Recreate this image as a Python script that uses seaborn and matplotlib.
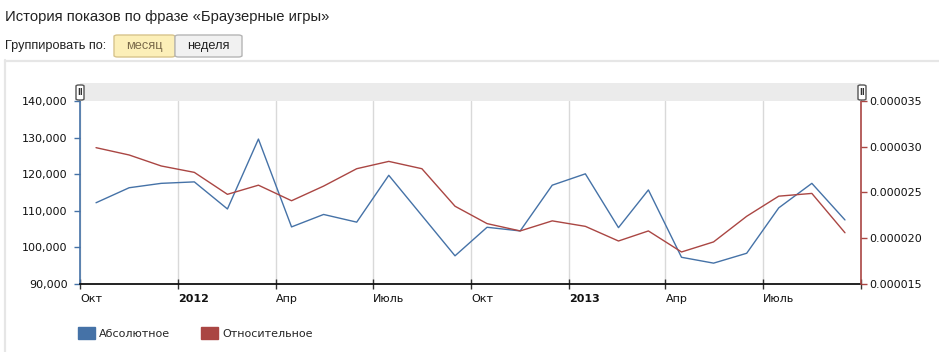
import pandas as pd
import seaborn as sns
import matplotlib.pyplot as plt
import matplotlib.transforms as mtrans
from matplotlib.patches import Patch, Rectangle, FancyBboxPatch
from matplotlib.ticker import FuncFormatter

# monthly impressions for the phrase, Oct 2011 - Sep 2013
months = ['2011-10', '2011-11', '2011-12', '2012-01', '2012-02', '2012-03',
          '2012-04', '2012-05', '2012-06', '2012-07', '2012-08', '2012-09',
          '2012-10', '2012-11', '2012-12', '2013-01', '2013-02', '2013-03',
          '2013-04', '2013-05', '2013-06', '2013-07', '2013-08', '2013-09']
absolute = [112200, 116300, 117500, 117900, 110500, 129600,
            105600, 109000, 106900, 119700, 108700, 97700,
            105500, 104500, 117000, 120100, 105400, 115700,
            97300, 95700, 98400, 110800, 117500, 107500]
relative = [0.0000299, 0.0000291, 0.0000279, 0.0000272, 0.0000248, 0.0000258,
            0.0000241, 0.0000257, 0.0000276, 0.0000284, 0.0000276, 0.0000235,
            0.0000216, 0.0000208, 0.0000219, 0.0000213, 0.0000197, 0.0000208,
            0.0000185, 0.0000196, 0.0000224, 0.0000246, 0.0000249, 0.0000206]

tick_dates = ['2011-10-01', '2012-01-01', '2012-04-01', '2012-07-01', '2012-10-01',
              '2013-01-01', '2013-04-01', '2013-07-01', '2013-10-01']
tick_labels = ['Окт', '2012', 'Апр', 'Июль', 'Окт', '2013', 'Апр', 'Июль', '']
series_names = ['Абсолютное', 'Относительное']

BLUE = '#4572A7'
RED = '#AA4643'

sns.set_style('white')
plt.rcParams['font.family'] = ['DejaVu Sans']

W, H = 939, 352
fig = plt.figure(figsize=(W / 100, H / 100), dpi=100)


def fx(x):
    return x / W


def fy(y):
    return 1 - y / H


# page header
fig.text(fx(5), fy(17), 'История показов по фразе «Браузерные игры»',
         family=['Liberation Sans'], fontsize=10.6, color='#222', va='center')
fig.text(fx(5), fy(46), 'Группировать по:', family=['Liberation Sans'],
         fontsize=9.2, color='#222', va='center')
fig.patches.append(FancyBboxPatch((fx(114), fy(57)), fx(61), 22 / H,
                                  boxstyle='round,pad=0,rounding_size=0.004',
                                  transform=fig.transFigure, fc='#fcefb8',
                                  ec='#d8c48c', lw=1))
fig.patches.append(FancyBboxPatch((fx(175), fy(57)), fx(67), 22 / H,
                                  boxstyle='round,pad=0,rounding_size=0.004',
                                  transform=fig.transFigure, fc='#f1f1f1',
                                  ec='#b5b5b5', lw=1))
fig.text(fx(144.5), fy(46), 'месяц', family=['Liberation Sans'], fontsize=9.2,
         color='#7a6a4a', ha='center', va='center')
fig.text(fx(208.5), fy(46), 'неделя', family=['Liberation Sans'], fontsize=9.2,
         color='#222', ha='center', va='center')

# outer frame of the chart block
fig.add_artist(plt.Line2D([fx(5), fx(5)], [fy(60), 0], color='#e6e6e6', lw=1.6,
                          transform=fig.transFigure))
fig.add_artist(plt.Line2D([fx(5), 1], [fy(61), fy(61)], color='#e6e6e6', lw=1.6,
                          transform=fig.transFigure))

# navigator band above the plot
fig.patches.append(Rectangle((fx(80), fy(101)), fx(861) - fx(80), 18 / H,
                             transform=fig.transFigure, fc='#ebebeb', ec='none'))
for hx in (80, 862):
    fig.patches.append(FancyBboxPatch((fx(hx - 4), fy(100)), 8 / W, 15 / H,
                                      boxstyle='round,pad=0,rounding_size=0.003',
                                      transform=fig.transFigure, fc='white',
                                      ec='#555', lw=1, zorder=5))
    fig.text(fx(hx), fy(92.5), 'II', fontsize=5.5, color='#333', ha='center',
             va='center', weight='bold', zorder=6)

ax = fig.add_axes([fx(80), fy(284), fx(861) - fx(80), fy(101) - fy(284)])
ax2 = ax.twinx()

dates = pd.to_datetime(months) + pd.Timedelta(days=15)
df = pd.DataFrame({'date': dates, 'abs': absolute, 'rel': relative})

sns.lineplot(data=df, x='date', y='abs', ax=ax, color=BLUE, linewidth=1.0)
sns.lineplot(data=df, x='date', y='rel', ax=ax2, color=RED, linewidth=1.0)

ax.set_xlim(pd.Timestamp('2011-10-01'), pd.Timestamp('2013-10-01'))
ax.set_ylim(90000, 140000)
ax2.set_ylim(0.000015, 0.000035)
ax.set_yticks(range(90000, 140001, 10000))
ax2.set_yticks([0.000015, 0.000020, 0.000025, 0.000030, 0.000035])
ax.yaxis.set_major_formatter(FuncFormatter(lambda v, p: f'{int(v):,}'))
ax2.yaxis.set_major_formatter(FuncFormatter(lambda v, p: f'{v:.6f}'))

ax.set_xticks(pd.to_datetime(tick_dates))
ax.set_xticklabels(tick_labels)
offset = mtrans.ScaledTranslation(4 / 100, 0, fig.dpi_scale_trans)
for lbl in ax.get_xticklabels():
    lbl.set_ha('left')
    lbl.set_transform(lbl.get_transform() + offset)
    if lbl.get_text() in ('2012', '2013'):
        lbl.set_fontweight('bold')

ax.set_xlabel('')
ax.set_ylabel('')
ax2.set_ylabel('')
ax.grid(axis='x', color='#d9d9d9', lw=1)
ax.grid(axis='y', visible=False)
ax2.grid(False)

for a in (ax, ax2):
    for s in a.spines.values():
        s.set_visible(False)
ax.spines['left'].set_visible(True)
ax.spines['left'].set_color(BLUE)
ax.spines['left'].set_linewidth(1.2)
ax.spines['bottom'].set_visible(True)
ax.spines['bottom'].set_color('#111')
ax.spines['bottom'].set_linewidth(1.3)
ax2.spines['right'].set_visible(True)
ax2.spines['right'].set_color(RED)
ax2.spines['right'].set_linewidth(1.2)

ax.tick_params(axis='y', left=True, length=4, width=1, color=BLUE, pad=5,
               labelsize=8, labelcolor='#111')
ax2.tick_params(axis='y', right=True, length=4, width=1, color=RED, pad=2,
                labelsize=8, labelcolor='#111')
ax.tick_params(axis='x', bottom=True, direction='inout', length=7, width=1,
               color='#333', pad=4, labelsize=8, labelcolor='#111')

handles = [Patch(color=BLUE, label=series_names[0]),
           Patch(color=RED, label=series_names[1])]
fig.legend(handles=handles, loc='center left', bbox_to_anchor=(fx(78), fy(333)),
           ncol=2, frameon=False, fontsize=8, handlelength=1.5,
           handleheight=1.35, handletextpad=0.4, columnspacing=2.8,
           borderpad=0, borderaxespad=0)

fig.savefig('out.png', dpi=100)
